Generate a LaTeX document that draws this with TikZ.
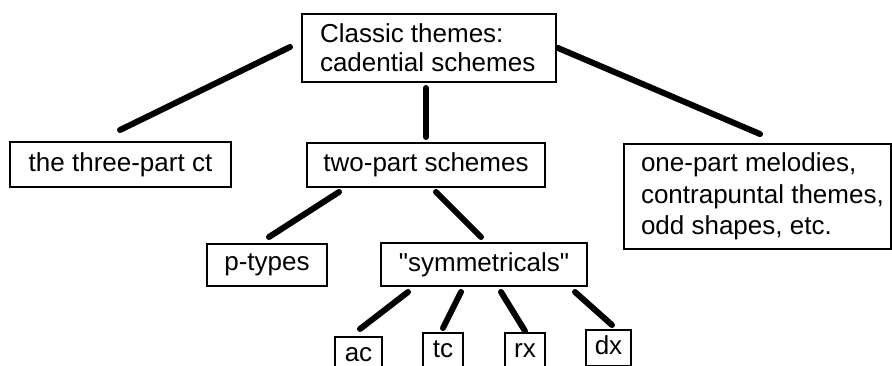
\documentclass[tikz,border=0pt]{standalone}
\usepackage{fontspec}
\setmainfont{Liberation Sans}
\newcommand{\sq}{\XeTeXglyph\XeTeXglyphindex "quotedbl"\relax}
\begin{document}
\begin{tikzpicture}[x=0.5pt,y=-0.5pt,
  box/.style={draw=black,line width=0.8pt,inner sep=0pt,font=\fontsize{13}{15}\selectfont},
  leaf/.style={box,minimum height=18pt,text height=9.5pt,text depth=2.7pt},
  conn/.style={line width=3pt,line cap=round}]
\useasboundingbox (0,0) rectangle (892,365);
\clip (0,0) rectangle (892,365);
% nodes
\node[box,minimum width=127pt,minimum height=34pt] (top) at (429,48)
  {\hspace*{9pt}\parbox[c]{118pt}{\fontsize{13}{14.5}\selectfont Classic themes:\\cadential schemes}};
\node[box,minimum width=110.5pt,minimum height=22.5pt] (three) at (120.5,164.5) {the three-part ct};
\node[box,minimum width=119pt,minimum height=22pt] (two) at (426,165) {two-part schemes};
\node[box,minimum width=133.5pt,minimum height=52.5pt] (one) at (757.5,196.5)
  {\hspace*{8.5pt}\parbox[c]{125pt}{\fontsize{13}{15.75}\selectfont one-part melodies,\\contrapuntal themes,\\odd shapes, etc.}};
\node[box,minimum width=60pt,minimum height=21pt] (ptypes) at (267,265) {p-types};
\node[box,minimum width=103pt,minimum height=21.5pt] (sym) at (484,264.5) {\sq symmetricals\sq};
\node[leaf,minimum width=23.5pt] (ac) at (358.5,355) {ac};
\node[leaf,minimum width=20pt] (tc) at (443,351) {tc};
\node[leaf,minimum width=20pt] (rx) at (525,351) {rx};
\node[leaf,minimum width=22.5pt] (dx) at (608.5,348) {dx};
% connector ends
\coordinate (t3) at (290,47);  \coordinate (c3) at (120,130);
\coordinate (t1) at (558,48);  \coordinate (c1) at (760,134);
\coordinate (t2) at (426,88);  \coordinate (c2) at (426,137);
\coordinate (tp) at (339,192); \coordinate (cp) at (269,237);
\coordinate (ts) at (436,192); \coordinate (cs) at (481,237);
\coordinate (sa) at (408,292); \coordinate (ca) at (360,329);
\coordinate (st) at (461,292); \coordinate (ct) at (443,328);
\coordinate (sr) at (501,292); \coordinate (cr) at (525,331);
\coordinate (sd) at (575,292); \coordinate (cd) at (612,325);
% connectors
\draw[conn] (t3) -- (c3);
\draw[conn] (t1) -- (c1);
\draw[conn] (t2) -- (c2);
\draw[conn] (tp) -- (cp);
\draw[conn] (ts) -- (cs);
\draw[conn] (sa) -- (ca);
\draw[conn] (st) -- (ct);
\draw[conn] (sr) -- (cr);
\draw[conn] (sd) -- (cd);
\end{tikzpicture}
\end{document}
